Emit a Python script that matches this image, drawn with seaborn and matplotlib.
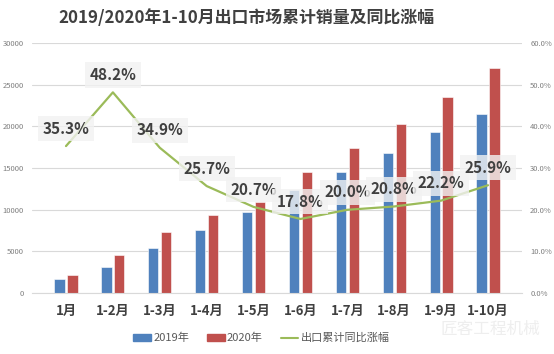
import numpy as np
import pandas as pd
import matplotlib.pyplot as plt
import seaborn as sns
from matplotlib.ticker import PercentFormatter
from matplotlib.patches import Patch
from matplotlib.lines import Line2D

# ---- data ----
months = ["1月", "1-2月", "1-3月", "1-4月", "1-5月", "1-6月", "1-7月", "1-8月", "1-9月", "1-10月"]
sales_2019 = [1640, 3080, 5400, 7560, 9680, 12360, 14480, 16760, 19360, 21480]
sales_2020 = [2160, 4520, 7300, 9360, 10960, 14480, 17360, 20240, 23600, 27080]
growth_pct = [35.3, 48.2, 34.9, 25.7, 20.7, 17.8, 20.0, 20.8, 22.2, 25.9]
series_names = ["2019年", "2020年"]
line_name = "出口累计同比涨幅"

blue, red, green = "#4F81BD", "#C0504D", "#9BBB59"

df = pd.DataFrame({
    "month": months * 2,
    "sales": sales_2019 + sales_2020,
    "year": [series_names[0]] * len(months) + [series_names[1]] * len(months),
})

sns.set_style("white")
plt.rcParams["font.family"] = ["Noto Sans CJK SC", "DejaVu Sans"]

fig = plt.figure(figsize=(5.54, 3.54), dpi=100)
ax = fig.add_axes([0.058, 0.172, 0.884, 0.706])

sns.barplot(data=df, x="month", y="sales", hue="year", order=months,
            palette=[blue, red], saturation=1, width=0.55, gap=0.2, ax=ax,
            edgecolor="white", linewidth=0.4, legend=False)
ax.set_ylim(0, 30000)
ax.set_yticks(range(0, 30001, 5000))
ax.yaxis.grid(True, color="#d9d9d9", linewidth=0.8)
ax.set_axisbelow(True)
ax.set_xlabel("")
ax.set_ylabel("")
for s in ax.spines.values():
    s.set_visible(False)
ax.spines["bottom"].set_visible(True)
ax.spines["bottom"].set_color("#d9d9d9")
ax.tick_params(axis="y", labelsize=5.5, labelcolor="#7f7f7f", length=0, pad=6)
ax.tick_params(axis="x", length=0, pad=8)
for lab in ax.get_xticklabels():
    lab.set_fontsize(9.5)
    lab.set_fontweight("bold")
    lab.set_color("#404040")

ax2 = ax.twinx()
x_pos = np.arange(len(months))
growth = np.array(growth_pct) / 100
sns.lineplot(x=x_pos, y=growth, color=green, linewidth=1.6, ax=ax2)
ax2.set_ylim(0, 0.6)
ax2.set_yticks(np.arange(0, 0.61, 0.1))
ax2.yaxis.set_major_formatter(PercentFormatter(1.0, decimals=1))
ax2.tick_params(axis="y", labelsize=5.5, labelcolor="#7f7f7f", length=0, pad=6)
for s in ax2.spines.values():
    s.set_visible(False)
ax2.set_xlim(ax.get_xlim())

for xi, g, txt in zip(x_pos, growth, growth_pct):
    ax2.annotate(f"{txt:.1f}%", (xi, g), xytext=(0, 12.5), textcoords="offset points",
                 ha="center", va="center", fontsize=11, fontweight="bold", color="#404040",
                 bbox=dict(boxstyle="square,pad=0.3", fc="#f2f2f2", ec="none", alpha=0.8))

fig.text(0.445, 0.948, "2019/2020年1-10月出口市场累计销量及同比涨幅", ha="center", va="center",
         fontsize=12.2, fontweight="bold", color="#404040")

handles = [Patch(color=blue), Patch(color=red), Line2D([], [], color=green, linewidth=1.5)]
fig.legend(handles, series_names + [line_name], loc="center", bbox_to_anchor=(0.472, 0.045),
           ncol=3, frameon=False, fontsize=8, handlelength=1.6, handleheight=0.6,
           handletextpad=0.2, columnspacing=1.6, labelcolor="#595959")

fig.text(0.885, 0.07, "匠客工程机械", ha="center", va="center", fontsize=12,
         color="#eeeeee", zorder=0)

fig.savefig("out.png", dpi=100)
